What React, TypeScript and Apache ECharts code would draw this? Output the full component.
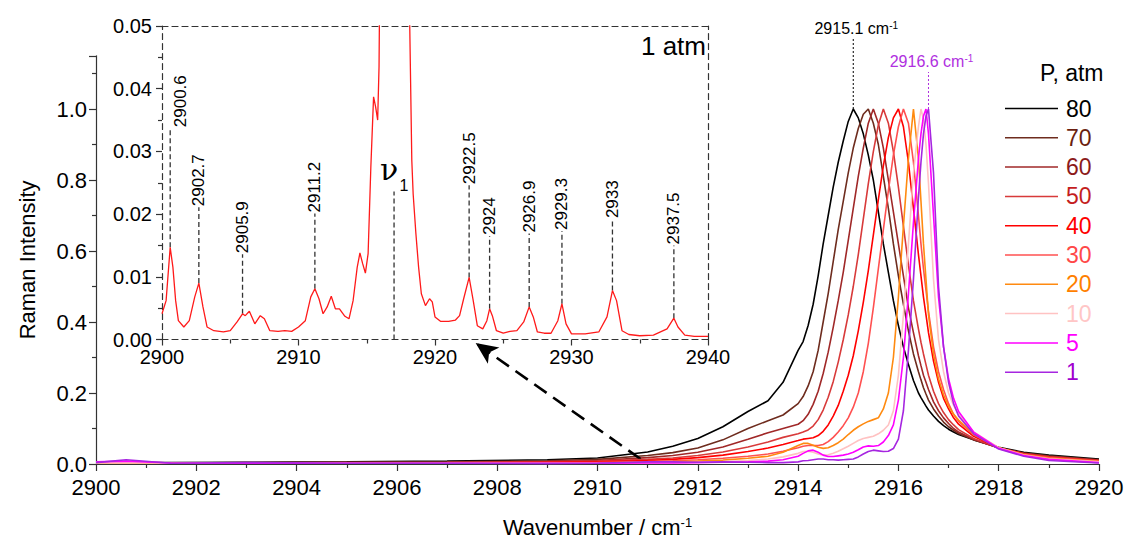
import React, { useEffect, useRef } from 'react';
import * as echarts from 'echarts';

// ---------- main panel data ----------
const wavenumbers = [
  2900, 2900.6, 2901.5, 2903, 2905, 2907, 2909, 2910, 2911, 2911.5, 2912, 2912.5, 2913, 2913.4, 2913.7,
  2914.0, 2914.1, 2914.2, 2914.3, 2914.4, 2914.5, 2914.6, 2914.7, 2914.8, 2914.9,
  2915.0, 2915.1, 2915.2, 2915.3, 2915.4, 2915.5, 2915.6, 2915.7, 2915.8, 2915.9,
  2916.0, 2916.1, 2916.2, 2916.3, 2916.4, 2916.45, 2916.5, 2916.55, 2916.6, 2916.7, 2916.8, 2916.9,
  2917.0, 2917.1, 2917.2, 2917.5, 2918, 2918.5, 2919, 2920,
];
const p80 = [
  0.003, 0.004, 0.004, 0.005, 0.006, 0.008, 0.012, 0.017, 0.034, 0.05, 0.072, 0.105, 0.148, 0.178, 0.23,
  0.32, 0.345, 0.39, 0.45, 0.53, 0.62, 0.7, 0.78, 0.85, 0.91,
  0.965, 1.0, 0.975, 0.93, 0.87, 0.8, 0.71, 0.62, 0.54, 0.46,
  0.39, 0.33, 0.28, 0.235, 0.2, 0.187, 0.175, 0.163, 0.152, 0.135, 0.12, 0.108,
  0.098, 0.09, 0.083, 0.068, 0.047, 0.033, 0.025, 0.014,
];
const p70 = [
  0.002, 0.003, 0.003, 0.004, 0.005, 0.006, 0.009, 0.013, 0.024, 0.032, 0.045, 0.068, 0.1, 0.122, 0.138,
  0.17, 0.19, 0.22, 0.26, 0.32, 0.4, 0.48, 0.57, 0.66, 0.74,
  0.82, 0.89, 0.945, 0.985, 1.0, 0.96, 0.9, 0.81, 0.72, 0.62,
  0.53, 0.45, 0.375, 0.31, 0.26, 0.237, 0.215, 0.197, 0.18, 0.155, 0.135, 0.118,
  0.105, 0.095, 0.086, 0.068, 0.046, 0.031, 0.023, 0.012,
];
const p60 = [
  0.002, 0.003, 0.002, 0.003, 0.004, 0.005, 0.007, 0.01, 0.018, 0.024, 0.033, 0.048, 0.07, 0.088, 0.1,
  0.112, 0.122, 0.14, 0.168, 0.205, 0.255, 0.315, 0.385, 0.46, 0.54,
  0.63, 0.72, 0.81, 0.89, 0.96, 1.0, 0.96, 0.89, 0.8, 0.71,
  0.62, 0.53, 0.44, 0.37, 0.305, 0.277, 0.25, 0.23, 0.21, 0.175, 0.15, 0.13,
  0.114, 0.1, 0.09, 0.069, 0.045, 0.03, 0.021, 0.011,
];
const p50 = [
  0.002, 0.002, 0.002, 0.003, 0.003, 0.004, 0.006, 0.008, 0.013, 0.017, 0.024, 0.034, 0.048, 0.062, 0.075,
  0.085, 0.09, 0.096, 0.107, 0.125, 0.152, 0.188, 0.232, 0.287, 0.35,
  0.42, 0.5, 0.59, 0.69, 0.79, 0.88, 0.955, 1.0, 0.96, 0.88,
  0.78, 0.67, 0.56, 0.46, 0.38, 0.343, 0.31, 0.28, 0.25, 0.205, 0.17, 0.145,
  0.125, 0.11, 0.097, 0.072, 0.045, 0.029, 0.02, 0.01,
];
const p40 = [
  0.002, 0.002, 0.002, 0.002, 0.003, 0.003, 0.005, 0.006, 0.01, 0.013, 0.018, 0.025, 0.035, 0.045, 0.055,
  0.066, 0.07, 0.072, 0.074, 0.08, 0.092, 0.11, 0.135, 0.165, 0.205,
  0.25, 0.305, 0.375, 0.455, 0.545, 0.645, 0.745, 0.84, 0.92, 0.975,
  1.0, 0.95, 0.85, 0.72, 0.59, 0.53, 0.47, 0.42, 0.37, 0.29, 0.23, 0.185,
  0.155, 0.13, 0.112, 0.078, 0.045, 0.028, 0.019, 0.009,
];
const p30 = [
  0.002, 0.002, 0.002, 0.002, 0.002, 0.003, 0.003, 0.004, 0.007, 0.009, 0.012, 0.016, 0.022, 0.028, 0.036,
  0.046, 0.05, 0.052, 0.052, 0.052, 0.055, 0.063, 0.075, 0.09, 0.108,
  0.13, 0.16, 0.2, 0.26, 0.34, 0.44, 0.55, 0.66, 0.77, 0.87,
  0.95, 1.0, 0.96, 0.85, 0.7, 0.62, 0.55, 0.49, 0.43, 0.33, 0.26, 0.21,
  0.17, 0.14, 0.12, 0.082, 0.045, 0.027, 0.018, 0.008,
];
const p20 = [
  0.002, 0.002, 0.002, 0.002, 0.002, 0.002, 0.003, 0.003, 0.005, 0.006, 0.008, 0.011, 0.016, 0.022, 0.033,
  0.052, 0.058, 0.058, 0.053, 0.047, 0.044, 0.046, 0.052, 0.06, 0.07,
  0.083, 0.095, 0.105, 0.113, 0.12, 0.125, 0.13, 0.155, 0.2, 0.3,
  0.47, 0.67, 0.86, 1.0, 0.86, 0.74, 0.62, 0.52, 0.42, 0.31, 0.24, 0.195,
  0.163, 0.14, 0.124, 0.085, 0.046, 0.026, 0.016, 0.007,
];
const p10 = [
  0.003, 0.004, 0.002, 0.002, 0.002, 0.002, 0.002, 0.002, 0.003, 0.004, 0.005, 0.007, 0.01, 0.014, 0.02,
  0.03, 0.035, 0.036, 0.033, 0.028, 0.025, 0.026, 0.03, 0.036, 0.043,
  0.05, 0.058, 0.066, 0.072, 0.075, 0.078, 0.085, 0.095, 0.11, 0.15,
  0.25, 0.42, 0.62, 0.82, 0.95, 1.0, 0.97, 0.9, 0.79, 0.52, 0.35, 0.26,
  0.2, 0.165, 0.14, 0.09, 0.046, 0.025, 0.015, 0.006,
];
const p5 = [
  0.006, 0.008, 0.003, 0.002, 0.002, 0.002, 0.002, 0.002, 0.003, 0.003, 0.004, 0.005, 0.006, 0.008, 0.012,
  0.022, 0.03, 0.037, 0.039, 0.033, 0.025, 0.021, 0.021, 0.023, 0.025,
  0.028, 0.033, 0.04, 0.048, 0.051, 0.05, 0.052, 0.062, 0.08, 0.11,
  0.18, 0.3, 0.48, 0.68, 0.86, 0.93, 0.98, 1.0, 0.93, 0.7, 0.47, 0.33,
  0.24, 0.185, 0.148, 0.09, 0.044, 0.024, 0.013, 0.004,
];
const p1 = [
  0.004, 0.012, 0.002, 0.004, 0.002, 0.002, 0.001, 0.002, 0.006, 0.006, 0.005, 0.006, 0.005, 0.004, 0.004,
  0.006, 0.009, 0.01, 0.012, 0.014, 0.014, 0.012, 0.012, 0.011, 0.012,
  0.013, 0.014, 0.02, 0.028, 0.035, 0.039, 0.037, 0.035, 0.036, 0.0435,
  0.07, 0.15, 0.32, 0.52, 0.75, 0.85, 0.93, 0.98, 1.0, 0.82, 0.5, 0.33,
  0.23, 0.17, 0.135, 0.085, 0.042, 0.022, 0.01, 0.003,
];
const pressures = ['80', '70', '60', '50', '40', '30', '20', '10', '5', '1'];
const spectra = [p80, p70, p60, p50, p40, p30, p20, p10, p5, p1];
const lineColors = ['#000000', '#6e2c1e', '#a02828', '#d83a3a', '#ff0000', '#ff5050', '#ff8a10', '#ffc2c2', '#ff00ff', '#a626e0'];
const textColors = ['#000000', '#6b1f10', '#8b1a1a', '#c41e1e', '#ff0000', '#ff4848', '#ff7f00', '#ffc6c6', '#ff00ff', '#a000d0'];

const peakX = [2915.1, 2916.6];
const peakY = [1.0, 1.0];
const peakText = ['2915.1', '2916.6'];
const peakColors = ['#000000', '#b030e0'];

const arrowFrom = [2910.86, 0.014];
const arrowTo = [2907.57, 0.341];

// ---------- inset (1 atm) data ----------
const insetX = [
  2900.0, 2900.3, 2900.6, 2900.8, 2901.0, 2901.2, 2901.6, 2902.0, 2902.4, 2902.7, 2903.0, 2903.3, 2903.8,
  2904.5, 2905.0, 2905.5, 2905.9, 2906.1, 2906.4, 2906.8, 2907.2, 2907.5, 2907.9, 2908.5, 2909.0, 2909.5,
  2910.0, 2910.5, 2910.9, 2911.2, 2911.5, 2911.8, 2912.1, 2912.4, 2912.7, 2913.0, 2913.4, 2913.7, 2914.0,
  2914.3, 2914.5, 2914.7, 2914.9, 2915.1, 2915.3, 2915.5, 2915.65, 2915.8, 2915.9, 2916.0, 2916.3, 2916.6,
  2916.9, 2917.2, 2917.5, 2917.8, 2918.0, 2918.15, 2918.3, 2918.4, 2918.6, 2918.8, 2919.0, 2919.3, 2919.6,
  2919.8, 2920.0, 2920.4, 2921.0, 2921.5, 2921.8, 2922.1, 2922.5, 2922.8, 2923.1, 2923.5, 2923.8, 2924.0,
  2924.2, 2924.5, 2925.0, 2925.5, 2926.0, 2926.5, 2926.9, 2927.2, 2927.5, 2928.0, 2928.5, 2929.0, 2929.3,
  2929.6, 2930.0, 2931.0, 2932.0, 2932.6, 2933.0, 2933.3, 2933.7, 2934.2, 2935.0, 2936.0, 2937.0, 2937.5,
  2937.8, 2938.3, 2939.0, 2940.0,
];
const insetY = [
  0.0041, 0.0062, 0.0147, 0.0115, 0.0062, 0.003, 0.002, 0.003, 0.0068, 0.009, 0.0052, 0.002, 0.0014,
  0.0012, 0.0014, 0.0028, 0.0041, 0.0038, 0.0045, 0.0025, 0.0038, 0.0033, 0.0014, 0.0013, 0.0014, 0.0013,
  0.002, 0.003, 0.0068, 0.0081, 0.0065, 0.0041, 0.0052, 0.0069, 0.0049, 0.0049, 0.0037, 0.0033, 0.0062,
  0.0115, 0.0138, 0.0121, 0.0106, 0.0137, 0.0275, 0.0387, 0.0371, 0.035, 0.0435, 0.07, 0.52, 1.0,
  0.33, 0.135, 0.085, 0.068, 0.058, 0.05, 0.0286, 0.0232, 0.0169, 0.0115, 0.0073, 0.0054, 0.0065,
  0.006, 0.0036, 0.0029, 0.0029, 0.0031, 0.0038, 0.0065, 0.0099, 0.0062, 0.0022, 0.0017, 0.003, 0.0049,
  0.0038, 0.0014, 0.001, 0.0013, 0.0014, 0.0028, 0.0052, 0.0036, 0.0012, 0.001, 0.001, 0.003, 0.0057,
  0.0025, 0.0009, 0.0009, 0.0012, 0.0036, 0.0078, 0.0062, 0.0014, 0.0008, 0.0006, 0.0007, 0.0017, 0.0034,
  0.002, 0.0007, 0.0005, 0.0005,
];
const annX = [2900.6, 2902.7, 2905.9, 2911.2, 2917.0, 2922.5, 2924, 2926.9, 2929.3, 2933, 2937.5];
const annPeak = [0.0147, 0.009, 0.0041, 0.0081, 0, 0.0099, 0.0049, 0.0052, 0.0057, 0.0078, 0.0034];
const annTop = [0.0337, 0.0211, 0.0136, 0.0201, 0.0236, 0.0246, 0.0165, 0.0169, 0.0173, 0.0192, 0.015];
const annText = ['2900.6', '2902.7', '2905.9', '2911.2', 'ν1', '2922.5', '2924', '2926.9', '2929.3', '2933', '2937.5'];

const FONT = "'Liberation Sans', Arial, sans-serif";

export default function App() {
  const ref = useRef<HTMLDivElement>(null);

  useEffect(() => {
    document.body.style.margin = '0';
    if (!ref.current) return;
    const chart = echarts.init(ref.current, null, { renderer: 'svg' });

    const mainSeries: any[] = spectra.map((arr, i) => ({
      type: 'line',
      name: pressures[i],
      xAxisIndex: 0,
      yAxisIndex: 0,
      data: wavenumbers.map((x, j) => [x, arr[j]]),
      showSymbol: false,
      symbol: 'none',
      silent: true,
      clip: true,
      z: 2 + i,
      lineStyle: { color: lineColors[i], width: 1.6 },
      itemStyle: { color: lineColors[i] },
      ...(i === 0
        ? {
            markLine: {
              silent: true,
              symbol: ['none', 'arrow'],
              symbolSize: [15, 22],
              label: { show: false },
              lineStyle: { color: '#000', width: 2.6, type: [15, 8] },
              data: [[{ coord: arrowFrom }, { coord: arrowTo }]],
            },
          }
        : {}),
    }));

    const option: any = {
      animation: false,
      backgroundColor: '#fff',
      textStyle: { fontFamily: FONT },
      grid: [
        { left: 96, top: 55.75, width: 1003, height: 408.25, outerBoundsMode: 'none' },
        { left: 162, top: 26, width: 546, height: 313.5, outerBoundsMode: 'none' },
      ],
      legend: {
        orient: 'vertical',
        left: 1000,
        top: 92,
        icon: 'rect',
        itemWidth: 53,
        itemHeight: 1.5,
        itemGap: 6.3,
        selectedMode: false,
        textStyle: { fontSize: 23, fontFamily: FONT, lineHeight: 23, padding: [0, 0, 0, 3] },
        data: pressures.map((p, i) => ({ name: p, textStyle: { color: textColors[i] } })),
      },
      xAxis: [
        {
          type: 'value', gridIndex: 0, min: 2900, max: 2920, interval: 2,
          name: '{a|Wavenumber / cm}{b|-1}', nameLocation: 'middle', nameGap: 52,
          nameTextStyle: {
            rich: {
              a: { fontSize: 22, fontFamily: FONT, color: '#000' },
              b: { fontSize: 13, fontFamily: FONT, color: '#000', verticalAlign: 'top' },
            },
          },
          axisLine: { show: true, onZero: false, lineStyle: { color: '#333', width: 1.2 } },
          axisTick: { show: true, inside: false, length: 7, lineStyle: { color: '#333', width: 1.2 } },
          minorTick: { show: true, splitNumber: 2, length: 4, lineStyle: { color: '#333', width: 1.2 } },
          axisLabel: { fontSize: 22, color: '#000', margin: 12, fontFamily: FONT, formatter: (v: number) => String(v) },
          splitLine: { show: false },
        },
        {
          type: 'value', gridIndex: 1, min: 2900, max: 2940, interval: 10,
          axisLine: { show: true, onZero: false, lineStyle: { color: '#333', width: 1.2, type: [6, 4] } },
          axisTick: { show: true, length: 6, lineStyle: { color: '#333', width: 1.2 } },
          minorTick: { show: true, splitNumber: 2, length: 4, lineStyle: { color: '#333', width: 1.2 } },
          axisLabel: { fontSize: 20, color: '#000', margin: 7, fontFamily: FONT, formatter: (v: number) => String(v) },
          splitLine: { show: false },
        },
        {
          type: 'value', gridIndex: 1, min: 2900, max: 2940, position: 'top',
          axisLine: { show: true, onZero: false, lineStyle: { color: '#333', width: 1.2, type: [6, 4] } },
          axisTick: { show: false }, axisLabel: { show: false }, splitLine: { show: false },
        },
      ],
      yAxis: [
        {
          type: 'value', gridIndex: 0, min: 0, max: 1.15, interval: 0.2,
          name: 'Raman Intensity', nameLocation: 'middle', nameGap: 58, nameRotate: 90,
          nameTextStyle: { fontSize: 22, fontFamily: FONT, color: '#000' },
          axisLine: { show: true, onZero: false, lineStyle: { color: '#333', width: 1.2 } },
          axisTick: { show: true, length: 7, lineStyle: { color: '#333', width: 1.2 } },
          minorTick: { show: true, splitNumber: 2, length: 4, lineStyle: { color: '#333', width: 1.2 } },
          axisLabel: { fontSize: 22, color: '#000', margin: 9, fontFamily: FONT, showMaxLabel: false, formatter: (v: number) => v.toFixed(1) },
          splitLine: { show: false },
        },
        {
          type: 'value', gridIndex: 1, min: 0, max: 0.05, interval: 0.01,
          axisLine: { show: true, onZero: false, lineStyle: { color: '#333', width: 1.2, type: [6, 4] } },
          axisTick: { show: true, length: 6, lineStyle: { color: '#333', width: 1.2 } },
          minorTick: { show: true, splitNumber: 2, length: 4, lineStyle: { color: '#333', width: 1.2 } },
          axisLabel: { fontSize: 20, color: '#000', margin: 10, fontFamily: FONT, formatter: (v: number) => v.toFixed(2) },
          splitLine: { show: false },
        },
        {
          type: 'value', gridIndex: 1, min: 0, max: 0.05, position: 'right',
          axisLine: { show: true, onZero: false, lineStyle: { color: '#333', width: 1.2, type: [6, 4] } },
          axisTick: { show: false }, axisLabel: { show: false }, splitLine: { show: false },
        },
      ],
      graphic: [
        { type: 'text', left: 1040, top: 61, style: { text: 'P, atm', fontSize: 23, fontFamily: FONT, fill: '#000' } },
        { type: 'text', right: 422, top: 33, style: { text: '1 atm', fontSize: 26, fontFamily: FONT, fill: '#000' } },
      ],
      series: [
        ...mainSeries,
        {
          type: 'line', name: 'inset', xAxisIndex: 1, yAxisIndex: 1,
          data: insetX.map((x, j) => [x, insetY[j]]),
          showSymbol: false, symbol: 'none', silent: true, clip: true,
          lineStyle: { color: '#ff1a1a', width: 1.3 },
        },
        {
          type: 'custom', name: 'insetAnn', xAxisIndex: 1, yAxisIndex: 1, silent: true,
          data: annX.map((x, i) => [x, annPeak[i], annTop[i]]),
          renderItem: (params: any, api: any) => {
            const i = params.dataIndex;
            const a = api.coord([api.value(0), api.value(1)]);
            const b = api.coord([api.value(0), api.value(2)]);
            const children: any[] = [
              { type: 'line', shape: { x1: a[0], y1: a[1], x2: b[0], y2: b[1] }, style: { stroke: '#333', lineWidth: 1.3, lineDash: [5, 3] } },
            ];
            const t = annText[i];
            if (t === 'ν1') {
              children.push({ type: 'text', x: b[0] - 5, y: b[1] - 22, style: { text: 'ν', fontSize: 30, fontFamily: "'DejaVu Serif', serif", fill: '#000', align: 'center', verticalAlign: 'middle' } });
              children.push({ type: 'text', x: b[0] + 10, y: b[1] - 6, style: { text: '1', fontSize: 16, fontFamily: FONT, fill: '#000', align: 'center', verticalAlign: 'middle' } });
            } else {
              children.push({ type: 'text', x: b[0] + (i === 0 ? 10 : 0), y: b[1] - 1, rotation: Math.PI / 2, style: { text: t, fontSize: 17, fontFamily: FONT, fill: '#000', align: 'left', verticalAlign: 'middle' } });
            }
            return { type: 'group', children };
          },
        },
        {
          type: 'custom', name: 'peakAnn', xAxisIndex: 0, yAxisIndex: 0, silent: true, z: 20,
          data: peakX.map((x, i) => [x, peakY[i]]),
          renderItem: (params: any, api: any) => {
            const i = params.dataIndex;
            const p = api.coord([api.value(0), api.value(1)]);
            const len = i === 0 ? 70 : 37;
            const col = peakColors[i];
            return {
              type: 'group',
              children: [
                { type: 'line', shape: { x1: p[0], y1: p[1], x2: p[0], y2: p[1] - len }, style: { stroke: col, lineWidth: 1, lineDash: [2, 2] } },
                {
                  type: 'text', x: p[0] + 3, y: p[1] - len - 11,
                  style: {
                    text: `{a|${peakText[i]} cm}{b|-1}`,
                    align: 'center', verticalAlign: 'middle',
                    rich: {
                      a: { fontSize: 16, fontFamily: FONT, fill: col },
                      b: { fontSize: 10, fontFamily: FONT, fill: col, verticalAlign: 'top' },
                    },
                  },
                },
              ],
            };
          },
        },
      ],
    };

    chart.setOption(option);
    return () => chart.dispose();
  }, []);

  return <div ref={ref} style={{ width: 1128, height: 545 }} />;
}
